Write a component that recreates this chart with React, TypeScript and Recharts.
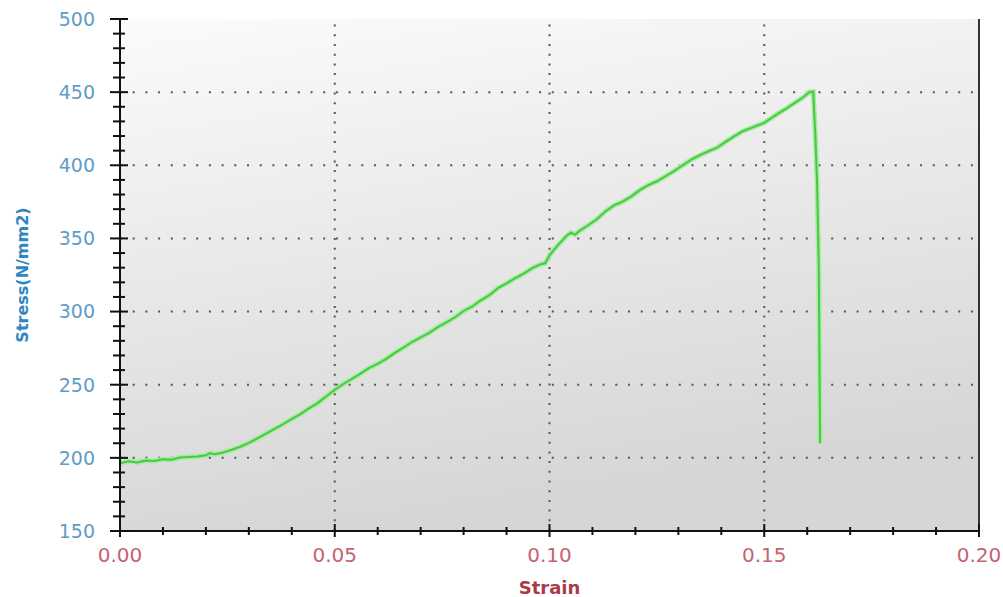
import { LineChart, Line, XAxis, YAxis, CartesianGrid, ReferenceLine } from 'recharts'

// strain / stress readings taken off the test curve
const strain = [
  0.000, 0.002, 0.004, 0.006, 0.008, 0.010, 0.012, 0.014, 0.016, 0.018,
  0.020, 0.021, 0.022, 0.024, 0.026, 0.028, 0.030, 0.032, 0.034, 0.036,
  0.038, 0.040, 0.042, 0.044, 0.046, 0.048, 0.050, 0.052, 0.054, 0.056,
  0.058, 0.060, 0.062, 0.064, 0.066, 0.068, 0.070, 0.072, 0.074, 0.076,
  0.078, 0.080, 0.082, 0.084, 0.086, 0.088, 0.090, 0.092, 0.094, 0.096,
  0.098, 0.099, 0.100, 0.102, 0.104, 0.105, 0.106, 0.107, 0.109, 0.111,
  0.113, 0.115, 0.117, 0.119, 0.121, 0.123, 0.125, 0.127, 0.129, 0.131,
  0.133, 0.135, 0.137, 0.139, 0.141, 0.143, 0.145, 0.147, 0.150, 0.153,
  0.155, 0.157, 0.159, 0.1605, 0.1614, 0.1619, 0.1623, 0.1627, 0.1630,
]
const stress = [
  196.3, 197.6, 196.8, 198.2, 197.9, 199.0, 198.7, 200.2, 200.6, 200.9,
  201.8, 203.2, 202.4, 203.6, 205.5, 207.6, 210.2, 213.4, 216.5, 219.8,
  223.1, 226.6, 229.9, 233.8, 237.4, 242.0, 246.5, 250.5, 254.0, 257.6,
  261.5, 264.3, 267.7, 271.8, 275.4, 279.2, 282.3, 285.5, 289.3, 292.6,
  296.1, 300.4, 303.5, 307.6, 311.2, 316.0, 319.3, 322.8, 325.9, 329.7,
  332.4, 333.0, 338.5, 345.6, 351.8, 353.9, 352.6, 355.2, 359.0, 363.1,
  368.4, 372.6, 375.1, 378.6, 383.0, 386.4, 389.0, 392.5, 396.0, 400.0,
  403.8, 406.9, 409.5, 412.0, 416.0, 419.8, 423.3, 425.6, 429.0, 435.0,
  438.5, 442.5, 446.3, 450.0, 450.3, 420.0, 388.0, 330.0, 210.0,
]

const xMajor = [0, 0.05, 0.1, 0.15, 0.2]
const xMinor = [0, 0.01, 0.02, 0.03, 0.04, 0.05, 0.06, 0.07, 0.08, 0.09, 0.1,
  0.11, 0.12, 0.13, 0.14, 0.15, 0.16, 0.17, 0.18, 0.19, 0.2]
const yMajor = [150, 200, 250, 300, 350, 400, 450, 500]
const yMinor = [150, 160, 170, 180, 190, 200, 210, 220, 230, 240, 250, 260, 270, 280, 290,
  300, 310, 320, 330, 340, 350, 360, 370, 380, 390, 400, 410, 420, 430, 440, 450,
  460, 470, 480, 490, 500]
const xGrid = [0.05, 0.1, 0.15]
const yGrid = [200, 250, 300, 350, 400, 450]

const data = strain.map((s, i) => ({ strain: s, stress: stress[i] }))

const FONT = '"DejaVu Sans", Verdana, sans-serif'
const isMajor = (v: number, list: number[]) => list.some(m => Math.abs(m - v) < 1e-9)

function YTick({ x, y, payload }: any) {
  const major = isMajor(payload.value, yMajor)
  return (
    <g>
      <line x1={x - (major ? 10 : 7)} x2={x + (major ? 8 : 5)} y1={y} y2={y} stroke="#111" strokeWidth={2} />
      {major && (
        <text x={x - 25} y={y} dy="0.36em" textAnchor="end" fill="#5f9cc6" fontSize={19} fontFamily={FONT}>
          {payload.value}
        </text>
      )}
    </g>
  )
}

function XTick({ x, y, payload }: any) {
  const major = isMajor(payload.value, xMajor)
  return (
    <g>
      <line x1={x} x2={x} y1={y - (major ? 7 : 4)} y2={y + (major ? 6 : 4)} stroke="#111" strokeWidth={2} />
      {major && (
        <text x={x} y={y + 31} textAnchor="middle" fill="#c4646f" fontSize={20} fontFamily={FONT}>
          {payload.value.toFixed(2)}
        </text>
      )}
    </g>
  )
}

function TopTick({ x, y, payload }: any) {
  if (payload.value <= 0 || payload.value >= 0.2) return null
  return <line x1={x} x2={x} y1={y} y2={y + 3} stroke="#111" strokeWidth={2} />
}

export default function App() {
  return (
    <div style={{ position: 'absolute', left: 0, top: 0, width: 1003, height: 597, background: '#fff' }}>
      <LineChart width={1003} height={597} data={data} margin={{ top: 19, right: 24, bottom: 26, left: 40 }}>
        <defs>
          <linearGradient id="plotBg" x1="0" y1="0" x2="0.25" y2="1">
            <stop offset="0%" stopColor="#fbfbfb" />
            <stop offset="100%" stopColor="#d6d6d6" />
          </linearGradient>
        </defs>
        <CartesianGrid horizontal={false} vertical={false} fill="url(#plotBg)" />
        {yGrid.map(v => (
          <ReferenceLine key={'h' + v} y={v} stroke="#555" strokeWidth={2} strokeDasharray="2 10.7" />
        ))}
        {xGrid.map(v => (
          <ReferenceLine key={'v' + v} x={v} stroke="#555" strokeWidth={2} strokeDasharray="2 7.7" />
        ))}
        <ReferenceLine x={0.2} stroke="#333" strokeWidth={2} />
        <XAxis
          dataKey="strain" type="number" domain={[0, 0.2]} ticks={xMinor} interval={0}
          tick={<XTick />} tickSize={0} tickMargin={0} height={40}
          axisLine={{ stroke: '#111', strokeWidth: 2 }} tickLine={false}
          label={{
            value: 'Strain', position: 'insideBottom', offset: -23,
            fill: '#a83c48', fontSize: 18, fontWeight: 'bold', fontFamily: FONT,
          }}
        />
        <XAxis
          xAxisId="top" orientation="top" dataKey="strain" type="number" domain={[0, 0.2]}
          ticks={xMinor} interval={0} tick={<TopTick />} tickSize={0} tickMargin={0} height={0}
          axisLine={{ stroke: '#111', strokeWidth: 2 }} tickLine={false}
        />
        <YAxis
          type="number" domain={[150, 500]} ticks={yMinor} interval={0}
          tick={<YTick />} tickSize={0} tickMargin={0} width={80}
          axisLine={{ stroke: '#111', strokeWidth: 2 }} tickLine={false}
          label={{
            value: 'Stress(N/mm2)', angle: -90, position: 'insideLeft', offset: -18,
            fill: '#2f86c0', fontSize: 16, fontWeight: 'bold', fontFamily: FONT,
            style: { textAnchor: 'middle' },
          }}
        />
        <Line
          type="linear" dataKey="stress" stroke="#a6ec9c" strokeWidth={5}
          dot={false} isAnimationActive={false} legendType="none"
        />
        <Line
          type="linear" dataKey="stress" stroke="#48c848" strokeWidth={2}
          dot={false} isAnimationActive={false}
        />
      </LineChart>
    </div>
  )
}
